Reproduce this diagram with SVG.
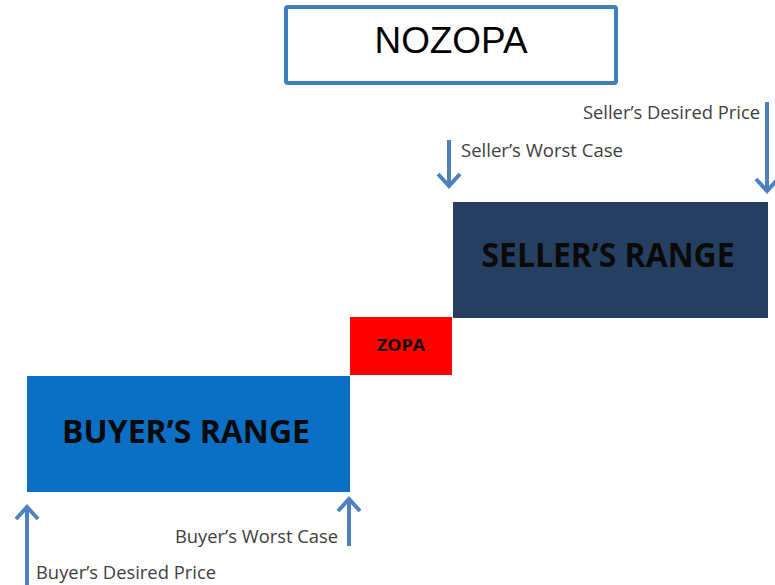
<svg xmlns="http://www.w3.org/2000/svg" width="775" height="585" viewBox="0 0 775 585">
<style>
.lbl{font-family:"Open Sans","Liberation Sans",sans-serif;font-size:18px;fill:#404040}
.big{font-family:"Open Sans","Liberation Sans",sans-serif;font-weight:bold;fill:#0a0a0a}
.arr{stroke:#4f81bd;stroke-width:4;fill:none}
.head{stroke:#4f81bd;stroke-width:4;fill:none;stroke-linecap:butt;stroke-linejoin:miter}
</style>
<rect width="775" height="585" fill="#fff"/>
<g id="title">
<rect x="286" y="7" width="330" height="76" fill="#fff" stroke="#3d7fbf" stroke-width="4" rx="2"/>
<text x="451" y="53" text-anchor="middle" font-family="Liberation Sans,Arial,sans-serif" font-size="36" fill="#000" textLength="153" lengthAdjust="spacingAndGlyphs">NOZOPA</text>
</g>
<g id="seller-range">
<rect x="453" y="202" width="315" height="116" fill="#243f60"/>
<text class="big" x="608" y="267" text-anchor="middle" font-size="34" textLength="253" lengthAdjust="spacingAndGlyphs">SELLER’S RANGE</text>
</g>
<g id="zopa">
<rect x="350" y="317" width="102" height="58" fill="#ff0000"/>
<text class="big" x="401" y="351" text-anchor="middle" font-size="16" textLength="48" lengthAdjust="spacingAndGlyphs">ZOPA</text>
</g>
<g id="buyer-range">
<rect x="27" y="376" width="323" height="116" fill="#0b6fc4"/>
<text class="big" x="186" y="443" text-anchor="middle" font-size="32" textLength="248" lengthAdjust="spacingAndGlyphs">BUYER’S RANGE</text>
</g>
<g id="connectors">
<line class="arr" x1="27" y1="585" x2="27" y2="507"/>
<polyline class="head" points="16,519 27,507 38,519"/>
<line class="arr" x1="349" y1="546" x2="349" y2="499"/>
<polyline class="head" points="338,511 349,499 360,511"/>
<line class="arr" x1="449" y1="140" x2="449" y2="186"/>
<polyline class="head" points="438,174 449,186 460,174"/>
<line class="arr" x1="767" y1="102" x2="767" y2="191"/>
<polyline class="head" points="756,179 767,191 778,179"/>
</g>
<g id="labels">
<text class="lbl" x="461" y="157" textLength="162" lengthAdjust="spacingAndGlyphs">Seller’s Worst Case</text>
<text class="lbl" x="583" y="119" textLength="177" lengthAdjust="spacingAndGlyphs">Seller’s Desired Price</text>
<text class="lbl" x="175" y="543" textLength="163" lengthAdjust="spacingAndGlyphs">Buyer’s Worst Case</text>
<text class="lbl" x="36" y="579" textLength="180" lengthAdjust="spacingAndGlyphs">Buyer’s Desired Price</text>
</g>
</svg>
